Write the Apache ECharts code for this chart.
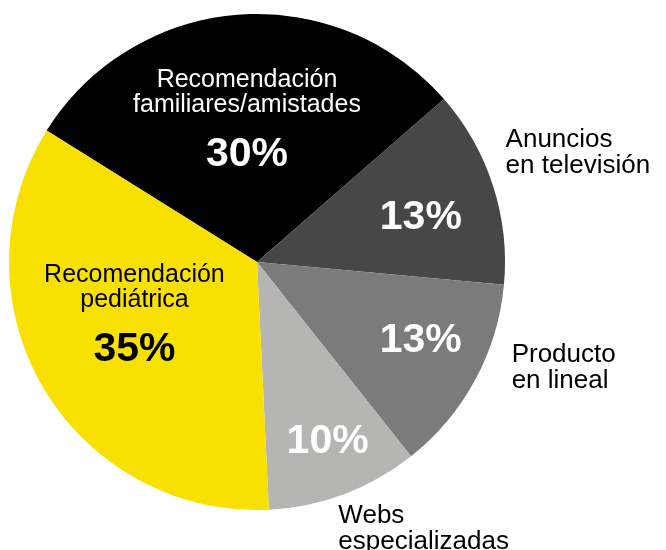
<!DOCTYPE html>
<html>
<head>
<meta charset="utf-8">
<script src="https://cdn.jsdelivr.net/npm/echarts@6/dist/echarts.min.js"></script>
<style>
  html, body { margin: 0; padding: 0; background: #ffffff; }
  #chart { width: 666px; height: 550px; }
</style>
</head>
<body>
<div id="chart"></div>
<script>
// datos del gráfico
var categorias = [
  "Recomendación\nfamiliares/amistades",
  "Anuncios\nen televisión",
  "Producto\nen lineal",
  "Webs\nespecializadas",
  "Recomendación\npediátrica"
];
var valores = [30, 13, 13, 10, 35];
var colores = ["#000000", "#474747", "#7b7b7b", "#b5b5b3", "#f8e100"];
// true = nombre dentro del sector, false = nombre fuera
var nombreDentro = [true, false, false, false, true];

// ajustes de posición de las etiquetas
var desplIn = [[0, -6], [43, -5], [52, 18], [26, 61], [-13, -2]];
var desplOut = [null, [200, -70], [195, 45], [122, 148], null];

var fuente = "'Liberation Sans', Arial, sans-serif";

var chart = echarts.init(document.getElementById("chart"));

var datosPie = categorias.map(function (c, i) {
  var txt = i === 4 ? "#000000" : "#ffffff";
  return {
    name: c,
    value: valores[i],
    itemStyle: { color: colores[i] },
    label: {
      offset: desplIn[i],
      formatter: nombreDentro[i] ? "{n|{b}}\n{p|{c}%}" : "{q|{c}%}",
      rich: {
        n: { fontFamily: fuente, fontSize: 25, lineHeight: 25, color: txt },
        p: { fontFamily: fuente, fontSize: 41, fontWeight: "bold", lineHeight: 74, color: txt },
        q: { fontFamily: fuente, fontSize: 41, fontWeight: "bold", lineHeight: 44, color: txt }
      }
    }
  };
});

var datosFuera = categorias.map(function (c, i) {
  return {
    name: c,
    value: valores[i],
    itemStyle: { color: "rgba(0,0,0,0)" },
    label: nombreDentro[i] ? { show: false } : {
      show: true,
      offset: desplOut[i]
    }
  };
});

chart.setOption({
  backgroundColor: "#ffffff",
  animation: false,
  series: [
    {
      type: "pie",
      center: [257, 262],
      radius: [0, 248],
      startAngle: 148,
      clockwise: true,
      silent: true,
      label: { show: true, position: "inside" },
      labelLine: { show: false },
      itemStyle: { borderWidth: 0 },
      data: datosPie
    },
    {
      type: "pie",
      center: [257, 262],
      radius: [0, 248],
      startAngle: 148,
      clockwise: true,
      silent: true,
      label: {
        show: true,
        position: "inside",
        formatter: function (p) {
          return p.name.split("\n").map(function (s) { return "{l|" + s + "}"; }).join("\n");
        },
        rich: {
          l: { fontFamily: fuente, fontSize: 26, lineHeight: 26, color: "#000000", align: "left" }
        }
      },
      labelLine: { show: false },
      itemStyle: { borderWidth: 0 },
      data: datosFuera
    }
  ]
});
</script>
</body>
</html>
